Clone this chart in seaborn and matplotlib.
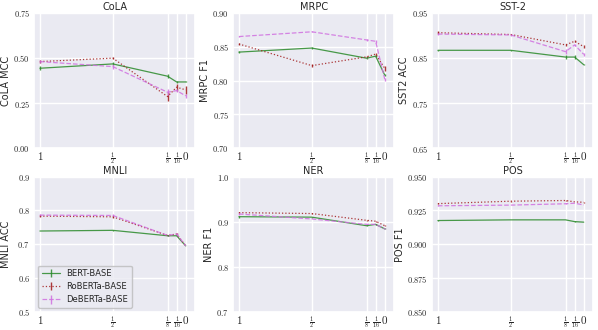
import numpy as np
import seaborn as sns
import matplotlib
matplotlib.use('Agg')
import matplotlib.pyplot as plt

# fraction of data kept (x axis runs from 1 down to 0)
fracs = [1, 1/2, 1/8, 1/16, 0]
frac_labels = ['$1$', r'$\frac{1}{2}$', r'$\frac{1}{8}$', r'$\frac{1}{16}$', '$0$']

models = ['BERT-BASE', 'RoBERTa-BASE', 'DeBERTa-BASE']

tasks = ['CoLA', 'MRPC', 'SST-2', 'MNLI', 'NER', 'POS']
ylabels = ['CoLA MCC', 'MRPC F1', 'SST2 ACC', 'MNLI ACC', 'NER F1', 'POS F1']

# mean scores per task, one list per model
cola_bert = [0.443, 0.467, 0.399, 0.367, 0.367]
cola_roberta = [0.480, 0.499, 0.286, 0.338, 0.323]
cola_deberta = [0.480, 0.452, 0.310, 0.319, 0.290]

mrpc_bert = [0.842, 0.848, 0.833, 0.836, 0.808]
mrpc_roberta = [0.854, 0.822, 0.835, 0.839, 0.818]
mrpc_deberta = [0.865, 0.872, 0.860, 0.858, 0.802]

sst2_bert = [0.867, 0.867, 0.852, 0.852, 0.835]
sst2_roberta = [0.906, 0.902, 0.879, 0.887, 0.875]
sst2_deberta = [0.903, 0.901, 0.864, 0.879, 0.858]

mnli_bert = [0.739, 0.741, 0.725, 0.725, 0.695]
mnli_roberta = [0.783, 0.781, 0.726, 0.730, 0.695]
mnli_deberta = [0.786, 0.785, 0.726, 0.730, 0.695]

ner_bert = [0.911, 0.910, 0.891, 0.894, 0.884]
ner_roberta = [0.920, 0.918, 0.903, 0.901, 0.891]
ner_deberta = [0.917, 0.906, 0.894, 0.894, 0.884]

pos_bert = [0.9175, 0.9180, 0.9180, 0.9167, 0.9163]
pos_roberta = [0.9300, 0.9318, 0.9323, 0.9313, 0.9310]
pos_deberta = [0.9284, 0.9289, 0.9299, 0.9303, 0.9290]

# std over seeds (error bars)
cola_err = [[0.012, 0.008, 0.010, 0.004, 0.003],
            [0.006, 0.004, 0.025, 0.020, 0.022],
            [0.008, 0.012, 0.018, 0.010, 0.010]]
mrpc_err = [[0.001, 0.001, 0.001, 0.001, 0.002],
            [0.001, 0.002, 0.001, 0.001, 0.004],
            [0.001, 0.001, 0.002, 0.002, 0.002]]
sst2_err = [[0.001, 0.001, 0.004, 0.005, 0.001],
            [0.003, 0.002, 0.002, 0.002, 0.004],
            [0.002, 0.002, 0.005, 0.002, 0.003]]
mnli_err = [[0.001, 0.001, 0.001, 0.001, 0.001],
            [0.003, 0.003, 0.002, 0.002, 0.001],
            [0.003, 0.003, 0.002, 0.002, 0.001]]
ner_err = [[0.002, 0.001, 0.001, 0.001, 0.001],
           [0.001, 0.001, 0.001, 0.001, 0.001],
           [0.002, 0.001, 0.001, 0.001, 0.001]]
pos_err = [[0.0003, 0.0002, 0.0002, 0.0003, 0.0002],
           [0.0003, 0.0003, 0.0002, 0.0002, 0.0003],
           [0.0003, 0.0002, 0.0002, 0.0002, 0.0003]]

task_vals = [
    (cola_bert, cola_roberta, cola_deberta),
    (mrpc_bert, mrpc_roberta, mrpc_deberta),
    (sst2_bert, sst2_roberta, sst2_deberta),
    (mnli_bert, mnli_roberta, mnli_deberta),
    (ner_bert, ner_roberta, ner_deberta),
    (pos_bert, pos_roberta, pos_deberta),
]
task_errs = [cola_err, mrpc_err, sst2_err, mnli_err, ner_err, pos_err]

yticks = [
    [0.0, 0.25, 0.5, 0.75],
    [0.70, 0.75, 0.80, 0.85, 0.90],
    [0.65, 0.75, 0.85, 0.95],
    [0.5, 0.6, 0.7, 0.8, 0.9],
    [0.7, 0.8, 0.9, 1.0],
    [0.850, 0.875, 0.900, 0.925, 0.950],
]
ytick_fmt = ['%.2f', '%.2f', '%.2f', '%.1f', '%.1f', '%.3f']

colors = ['#2a8a2a', '#a01818', '#d070e0']
styles = ['-', ':', '--']

sns.set_theme(style='darkgrid')
plt.rcParams['mathtext.fontset'] = 'cm'

fig, axes = plt.subplots(2, 3, figsize=(5.98, 3.3), dpi=100)
fig.subplots_adjust(left=0.057, right=0.992, top=0.961, bottom=0.055,
                    wspace=0.235, hspace=0.21)

for i, ax in enumerate(axes.flat):
    for m in range(3):
        ax.errorbar(fracs, task_vals[i][m], yerr=task_errs[i][m],
                    color=colors[m], ls=styles[m], lw=0.9, elinewidth=1.0,
                    alpha=0.85, label=models[m])
    ax.set_xlim(1.04, -0.065)
    ax.set_xticks(fracs)
    ax.set_xticklabels(frac_labels)
    ax.set_ylim(yticks[i][0], yticks[i][-1])
    ax.set_yticks(yticks[i])
    ax.set_yticklabels(['$' + (ytick_fmt[i] % v) + '$' for v in yticks[i]])
    ax.tick_params(axis='y', labelsize=6, pad=3, length=0)
    ax.tick_params(axis='x', pad=1.5, length=0)
    for j, lab in enumerate(ax.get_xticklabels()):
        lab.set_fontsize(8 if j in (0, 4) else 6.3)
    ax.set_title(tasks[i], fontsize=7, pad=2)
    ax.set_ylabel(ylabels[i], fontsize=7, labelpad=1.5)

fig.align_ylabels(axes[:, 0])

leg = axes[1, 0].legend(loc='lower left', fontsize=6, frameon=True,
                        framealpha=0.8, edgecolor='#bbbbbb',
                        handlelength=2.2, borderpad=0.4, labelspacing=0.5)

fig.savefig('out.png', dpi=100)
